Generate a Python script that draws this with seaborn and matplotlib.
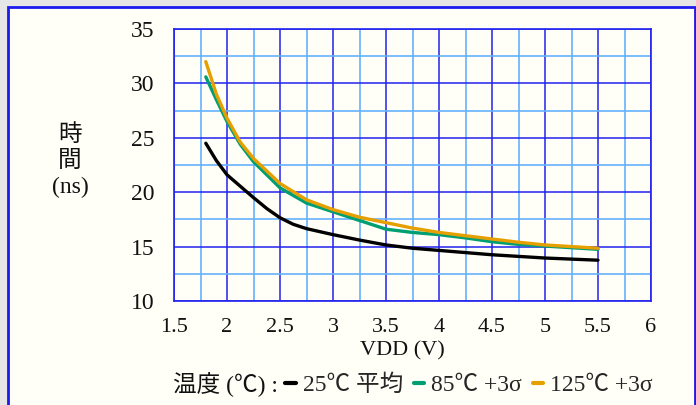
import numpy as np
import pandas as pd
import matplotlib
matplotlib.use("Agg")
import matplotlib.pyplot as plt
import seaborn as sns
from matplotlib.lines import Line2D
from matplotlib.patches import Rectangle
from matplotlib.ticker import MultipleLocator, FuncFormatter

# Données (VDD en V, temps en ns)
vdd_25 = [1.8, 1.9, 2.0, 2.125, 2.25, 2.375, 2.5, 2.625, 2.75, 3.0, 3.25, 3.5, 3.75, 4.0, 4.5, 5.0, 5.5]
t_25 = [24.5, 22.9, 21.6, 20.55, 19.5, 18.5, 17.65, 17.05, 16.65, 16.1, 15.6, 15.15, 14.85, 14.65, 14.25, 13.95, 13.75]

vdd_hot = [1.8, 1.9, 2.0, 2.125, 2.25, 2.5, 2.75, 3.0, 3.25, 3.5, 3.75, 4.0, 4.25, 4.5, 4.75, 5.0, 5.25, 5.5]
t_85 = [30.6, 28.5, 26.5, 24.4, 22.8, 20.4, 19.0, 18.2, 17.4, 16.6, 16.3, 16.1, 15.8, 15.45, 15.2, 15.05, 14.9, 14.75]
t_125 = [32.0, 29.0, 26.8, 24.6, 23.1, 20.8, 19.3, 18.4, 17.7, 17.2, 16.7, 16.3, 16.0, 15.7, 15.4, 15.15, 15.0, 14.85]

series = ["25℃ 平均", "85℃ +3σ", "125℃ +3σ"]
colors = ["#000000", "#009e73", "#e69f00"]

df = pd.concat([
    pd.DataFrame({"VDD": vdd_25, "t": t_25, "serie": series[0]}),
    pd.DataFrame({"VDD": vdd_hot, "t": t_85, "serie": series[1]}),
    pd.DataFrame({"VDD": vdd_hot, "t": t_125, "serie": series[2]}),
])

sns.set_style("white")
plt.rcParams["font.family"] = ["Liberation Serif", "Noto Sans CJK JP"]

W, H = 696, 405
fig = plt.figure(figsize=(W / 100, H / 100), dpi=100, facecolor="#e6e6e6")

# cadre bleu
fig.patches.append(Rectangle((8 / W, -0.05), (695 - 8) / W, (H - 7) / H + 0.05,
                             transform=fig.transFigure, facecolor="#fffff8",
                             edgecolor="#1a1aee", lw=2, zorder=-10))

ax = fig.add_axes([174 / W, (H - 301) / H, (651 - 174) / W, (301 - 29) / H])
ax.set_zorder(1)
ax.set_facecolor("#fffff8")

sns.lineplot(data=df, x="VDD", y="t", hue="serie", palette=dict(zip(series, colors)),
             estimator=None, sort=True, lw=2.4, legend=False, ax=ax, zorder=3)

ax.set_xlim(1.5, 6)
ax.set_ylim(10, 35)
ax.xaxis.set_major_locator(MultipleLocator(0.5))
ax.xaxis.set_minor_locator(MultipleLocator(0.25))
ax.yaxis.set_major_locator(MultipleLocator(5))
ax.yaxis.set_minor_locator(MultipleLocator(2.5))
ax.xaxis.set_major_formatter(FuncFormatter(lambda v, p: f"{v:g}"))
ax.grid(which="minor", color="#66b2ff", lw=1.2)
ax.grid(which="major", color="#2222ee", lw=1.1)
ax.set_axisbelow(True)
for s in ax.spines.values():
    s.set_color("#2222ee")
    s.set_linewidth(1.2)
ax.tick_params(which="both", length=0)
ax.tick_params(axis="x", labelsize=16, pad=12, colors="#111111")
ax.tick_params(axis="y", labelsize=17, pad=14, colors="#111111")
ax.set_xlabel("VDD (V)", fontsize=16, color="#111111")
ax.xaxis.set_label_coords((402 - 174) / 477, (301 - 341) / 272)
ax.set_ylabel("")

fig.text(70 / W, (H - 161) / H, "時\n間\n(ns)", ha="center", va="center",
         fontsize=17, linespacing=1.3, color="#111111")

# légende
fig.text(173 / W, (H - 385) / H, "温度 (℃) :", ha="left", va="center",
         fontsize=17, color="#111111")
handles = [Line2D([], [], color=c, lw=3) for c in colors]
fig.legend(handles, series, loc="center left", bbox_to_anchor=(285 / W, (H - 385) / H),
           ncol=3, frameon=False, fontsize=17, handlelength=0.45, handletextpad=0.3,
           columnspacing=0.45, borderpad=0, borderaxespad=0)

fig.savefig("out.png", dpi=100, facecolor=fig.get_facecolor())
